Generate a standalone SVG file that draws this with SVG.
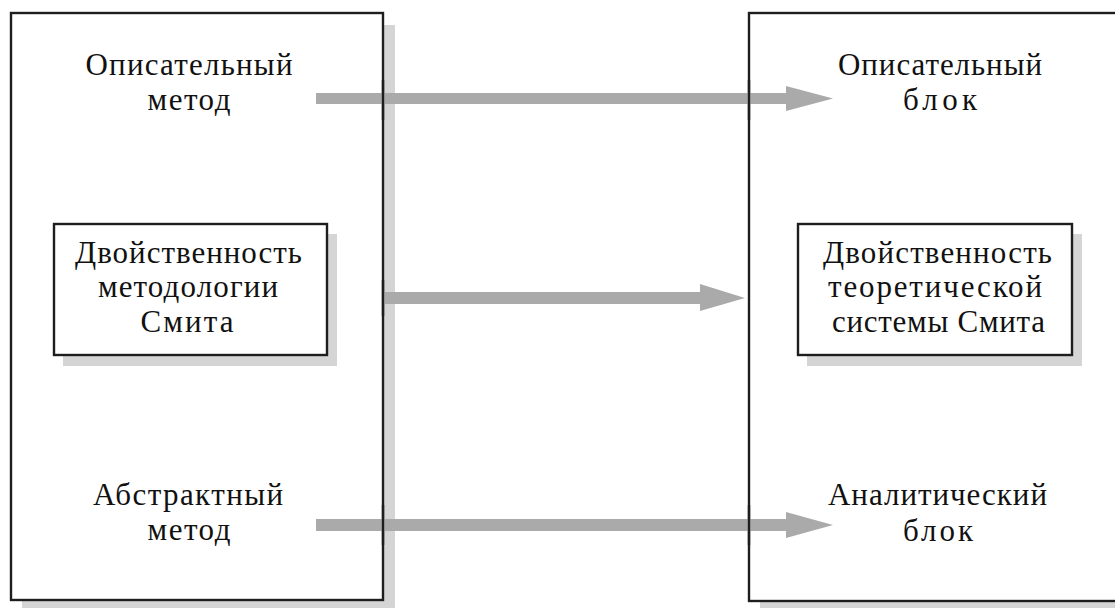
<svg xmlns="http://www.w3.org/2000/svg" width="1115" height="608" viewBox="0 0 1115 608">
<style>
.shadow{fill:#d5d5d5;stroke:none}
.box{fill:#ffffff;stroke:#1e1e1e;stroke-width:2.4}
.lbl{font-family:"Liberation Serif","DejaVu Serif",serif;font-size:31px;fill:#111111;text-anchor:middle}
.arrow{fill:#aaaaaa;stroke:none}
</style>
<rect x="0" y="0" width="1115" height="608" fill="#ffffff"/>
<g id="left-block">
<rect class="shadow" x="22" y="25" width="373" height="590"/>
<rect class="box" x="11" y="13" width="372" height="587"/>
<text class="lbl" x="189" y="75" textLength="207" lengthAdjust="spacing">Описательный</text>
<text class="lbl" x="189" y="110" textLength="83" lengthAdjust="spacing">метод</text>
<text class="lbl" x="188" y="505" textLength="190" lengthAdjust="spacing">Абстрактный</text>
<text class="lbl" x="189" y="540" textLength="83" lengthAdjust="spacing">метод</text>
</g>
<g id="right-block">
<rect class="shadow" x="760" y="25" width="400" height="590"/>
<rect class="box" x="749" y="13" width="400" height="588"/>
<text class="lbl" x="940" y="75" textLength="204" lengthAdjust="spacing">Описательный</text>
<text class="lbl" x="940" y="110" textLength="74" lengthAdjust="spacing">блок</text>
<text class="lbl" x="937.5" y="505" textLength="219" lengthAdjust="spacing">Аналитический</text>
<text class="lbl" x="938" y="541" textLength="70" lengthAdjust="spacing">блок</text>
</g>
<g id="left-inner">
<rect class="shadow" x="63" y="234" width="274" height="132"/>
<rect class="box" x="54" y="224" width="273" height="131"/>
<text class="lbl" x="188.5" y="263" textLength="227" lengthAdjust="spacing">Двойственность</text>
<text class="lbl" x="188" y="297" textLength="180" lengthAdjust="spacing">методологии</text>
<text class="lbl" x="187" y="332" textLength="93" lengthAdjust="spacing">Смита</text>
</g>
<g id="right-inner">
<rect class="shadow" x="807" y="234" width="275" height="132"/>
<rect class="box" x="798" y="224" width="274" height="131"/>
<text class="lbl" x="937.5" y="263" textLength="229" lengthAdjust="spacing">Двойственность</text>
<text class="lbl" x="935" y="297" textLength="214" lengthAdjust="spacing">теоретической</text>
<text class="lbl" x="938.5" y="332" textLength="213" lengthAdjust="spacing">системы Смита</text>
</g>
<g id="connectors">
<path class="arrow" d="M316,93 H786 V86 L833,98.5 L786,111 V104 H316 Z"/>
<path class="arrow" d="M385,292 H700 V284 L745,298 L700,311 V304 H385 Z"/>
<path class="arrow" d="M316,519 H786 V512 L833,525 L786,538 V531 H316 Z"/>
</g>
<g id="borders" fill="none" stroke="#1e1e1e" stroke-width="2.4">
<line x1="383" y1="80" x2="383" y2="120"/>
<line x1="383" y1="280" x2="383" y2="316"/>
<line x1="383" y1="505" x2="383" y2="545"/>
<line x1="749" y1="80" x2="749" y2="120"/>
<line x1="749" y1="505" x2="749" y2="545"/>
</g>
</svg>
